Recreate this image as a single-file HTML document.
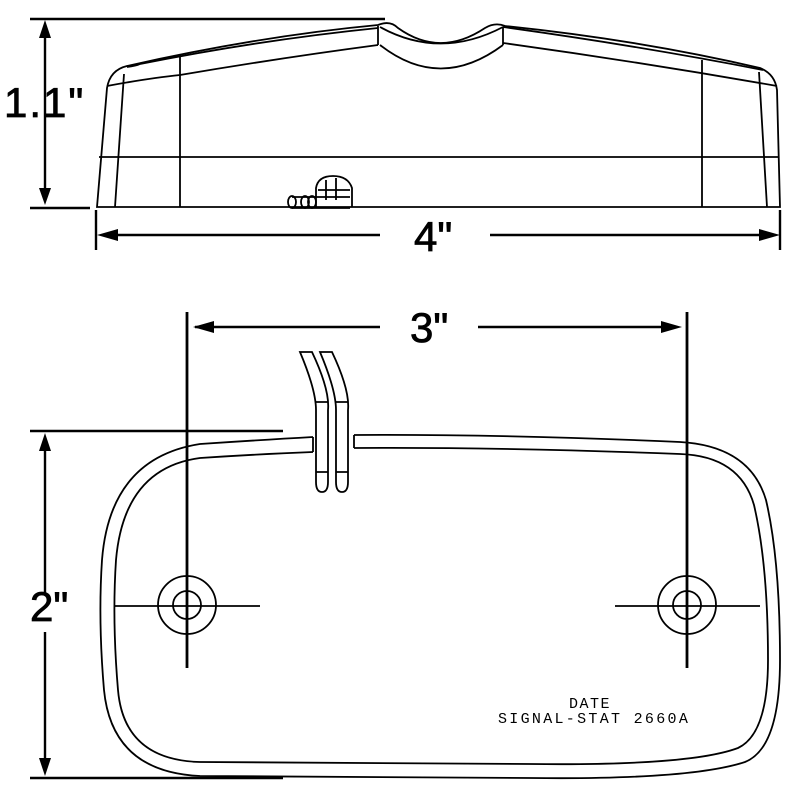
<!DOCTYPE html>
<html><head><style>body{margin:0;background:#fff}svg{display:block}</style></head><body>
<svg width="800" height="800" viewBox="0 0 800 800" xmlns="http://www.w3.org/2000/svg" fill="none" stroke="#000">
<!-- TOP VIEW -->
<g stroke-width="1.8">
<path d="M97,207 L107,88 Q110,70 127,66 Q260,36 378,25 Q390,20 398,28 Q440,58 485,28 Q495,22 505,26 Q640,40 760,68 Q775,74 777,90 L780,207 Z"/>
<path d="M127,67 Q136,66 140,64 Q260,40 378,28"/>
<path d="M107,86 Q150,78 180,75 Q280,58 378,45 M503,43 Q640,62 777,86"/>
<path d="M503,27 Q640,46 763,70"/>
<path d="M380,27 Q440,60 503,27"/>
<path d="M380,45 Q440,92 503,45"/>
<path d="M378,26 L378,45 M503,27 L503,45"/>
<path d="M124,74 L115,207 M759,72 L767,207"/>
<path d="M180,57 L180,207 M702,60 L702,207"/>
<path d="M99,157 L779,157"/>
<path d="M292,197 L350,197 M292,208 L350,208"/>
<ellipse cx="292" cy="202" rx="4" ry="6"/><ellipse cx="305" cy="202" rx="4" ry="6"/><ellipse cx="312" cy="202" rx="4" ry="6"/>
<path d="M316,207 L316,188 Q318,176 333,176 Q348,176 352,188 L352,207 M326,180 L326,200 M336,178 L336,200 M318,190 L350,190"/>
</g>
<!-- dims -->
<g stroke-width="2.4">
<path d="M30,19 L385,19 M30,208 L90,208"/>
<path d="M45,36 L45,190"/>
<path d="M96,210 L96,250 M780,210 L780,250"/>
<path d="M112,235 L380,235 M490,235 L764,235"/>
<path d="M195,327 L380,327 M478,327 L670,327"/>
<path d="M30,431 L283,431 M30,778 L283,778"/>
<path d="M45,448 L45,594 M45,632 L45,762"/>
</g>
<g fill="#000" stroke="none">
<path d="M45,20 L39,38 L51,38 Z M45,205 L39,188 L51,188 Z"/>
<path d="M97,235 L118,229 L118,241 Z M780,235 L759,229 L759,241 Z"/>
<path d="M193,327 L214,321 L214,333 Z M682,327 L661,321 L661,333 Z"/>
<path d="M45,433 L39,451 L51,451 Z M45,776 L39,758 L51,758 Z"/>
</g>
<g fill="#000" stroke="#000" stroke-width="0.8" font-family="Liberation Sans, sans-serif" font-size="42">
<text x="4" y="117" letter-spacing="2">1.1"</text>
<text x="414" y="251">4"</text>
<text x="410" y="342">3"</text>
<text x="30" y="621">2"</text>
</g>
<!-- BOTTOM VIEW -->
<g stroke-width="1.8">
<path d="M313,437 Q260,440 200,444 Q110,458 102,560 Q98,620 104,690 Q112,772 200,776 L530,778 Q690,780 745,762 Q780,748 780,660 Q780,560 766,500 Q750,446 680,442 Q500,434 354,435"/>
<path d="M313,452 Q260,454 200,458 Q124,468 116,560 Q112,620 118,690 Q124,760 200,762 L530,764 Q690,766 738,748 Q768,734 768,660 Q768,565 754,505 Q740,456 680,454 Q500,447 354,448"/>
<path d="M313,437 L313,452 M354,435 L354,448"/>
<path d="M300,352 L312,352 Q330,390 328,410 L328,482 Q328,492 322,492 Q316,492 316,482 L316,410 Q316,390 300,352 Z"/>
<path d="M320,352 L332,352 Q350,390 348,410 L348,482 Q348,492 342,492 Q336,492 336,482 L336,410 Q336,390 320,352 Z"/>
<path d="M316,472 L328,472 M336,472 L348,472 M316,402 L328,402 M336,402 L348,402"/>
<circle cx="187" cy="605" r="29"/><circle cx="187" cy="605" r="14"/>
<circle cx="687" cy="605" r="29"/><circle cx="687" cy="605" r="14"/>
<path d="M115,606 L260,606 M615,606 L760,606"/>
</g>
<g stroke-width="2.8"><path d="M187,312 L187,668 M687,312 L687,668"/></g>
<g fill="#000" stroke="none" font-family="Liberation Mono, monospace" font-size="15">
<text x="569" y="708" letter-spacing="1.5">DATE</text>
<text x="498" y="723" letter-spacing="2.3">SIGNAL-STAT 2660A</text>
</g>
</svg>
</body></html>
